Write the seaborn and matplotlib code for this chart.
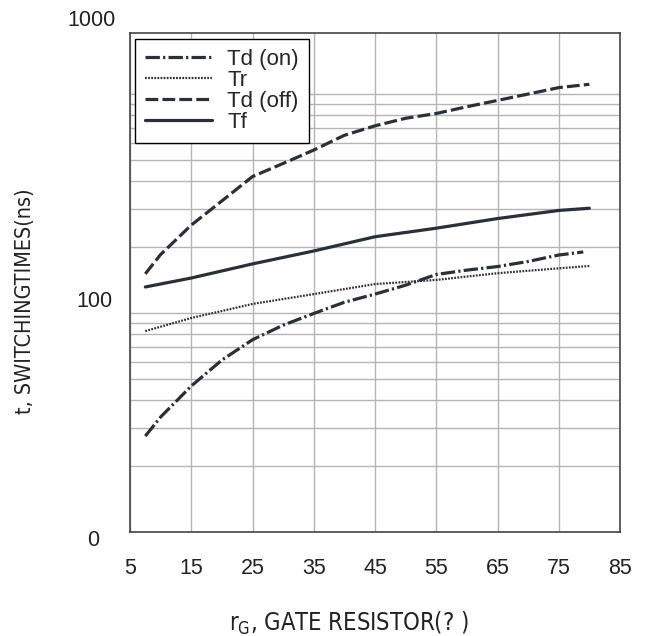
import numpy as np
import pandas as pd
import seaborn as sns
import matplotlib.pyplot as plt

# values (gate resistor in ohm, time in ns)
rg_on = [7.5, 10, 15, 20, 25, 30, 35, 40, 45, 50, 55, 60, 65, 70, 75, 79]
td_on = [27.4, 33.5, 46.4, 61, 75.5, 88, 99.5, 112, 122, 134, 150, 157, 163, 172, 184, 190]

rg_r = [7.5, 15, 25, 35, 45, 55, 65, 75, 80]
tr = [82.7, 94.9, 110, 122, 135.6, 141.6, 152, 160, 164]

rg_off = [7.5, 10, 15, 20, 25, 30, 35, 40, 45, 50, 55, 60, 65, 70, 75, 80]
td_off = [151, 185, 252, 325, 420, 482, 555, 648, 716, 775, 815, 875, 935, 1000, 1070, 1108]

rg_f = [7.5, 15, 25, 35, 45, 55, 65, 75, 80]
tf = [131.5, 144.5, 167.6, 192, 223, 244, 270, 294, 301]

x_ticks = [5, 15, 25, 35, 45, 55, 65, 75, 85]
y_tick_labels = ["1000", "100", "0"]

sns.set_style("white")
plt.rcParams["font.family"] = ["Liberation Sans", "DejaVu Sans"]

W, H = 646, 636
fig = plt.figure(figsize=(W / 100, H / 100), dpi=100)
ax = fig.add_axes([130 / W, 1 - 532 / H, 490 / W, 499 / H])

col = "#2b2f38"
sns.lineplot(x=rg_on, y=td_on, ax=ax, color=col, lw=2.3,
             linestyle=(0, (4.5, 1.0, 0.7, 1.0)), label="Td (on)")
sns.lineplot(x=rg_r, y=tr, ax=ax, color=col, lw=1.6,
             linestyle=(0, (0.8, 0.6)), label="Tr")
sns.lineplot(x=rg_off, y=td_off, ax=ax, color=col, lw=2.3,
             linestyle=(0, (4.0, 1.3)), label="Td (off)")
sns.lineplot(x=rg_f, y=tf, ax=ax, color=col, lw=2.3, label="Tf")

ax.set_yscale("log")
ax.set_ylim(10, 1900)
ax.set_xlim(5, 85)
ax.set_xticks(x_ticks)
ax.set_xticklabels([str(v) for v in x_ticks], fontsize=15.5, color="#222222")
ax.tick_params(axis="x", length=0, pad=19)
ax.tick_params(axis="y", which="both", length=0, labelleft=False)
ax.grid(True, which="both", axis="y", color="#b4b4b4", lw=1.0)
ax.grid(True, which="major", axis="x", color="#b4b4b4", lw=1.0)
for s in ax.spines.values():
    s.set_color("#444444")
    s.set_linewidth(1.2)

# y labels sit off the gridlines in the original sheet
fig.text(116 / W, 1 - 20 / H, y_tick_labels[0], fontsize=15.5, ha="right", va="center", color="#222222")
fig.text(113 / W, 1 - 301 / H, y_tick_labels[1], fontsize=15.5, ha="right", va="center", color="#222222")
fig.text(93 / W, 1 - 540 / H, y_tick_labels[2], fontsize=15.5, ha="center", va="center", color="#222222")

lab = dict(family=["DejaVu Sans"], fontstretch="condensed", color="#222222",
           ha="center", va="center")
fig.text(349 / W, 1 - 623 / H, r"$\mathregular{r_G}$, GATE RESISTOR(? )", fontsize=17, **lab)
fig.text(25 / W, 1 - 301 / H, "t, SWITCHINGTIMES(ns)", rotation=90, fontsize=15.5, **lab)

leg = ax.legend(loc="upper left", bbox_to_anchor=(5 / 490, 1 - 6 / 499), borderaxespad=0,
                fancybox=False, edgecolor="black", framealpha=1, handlelength=3.0,
                handletextpad=0.7, labelspacing=0.0, borderpad=0.45,
                prop={"family": ["Liberation Sans", "DejaVu Sans"], "size": 16})
leg.get_frame().set_linewidth(1.0)

fig.savefig("out.png", dpi=100)
